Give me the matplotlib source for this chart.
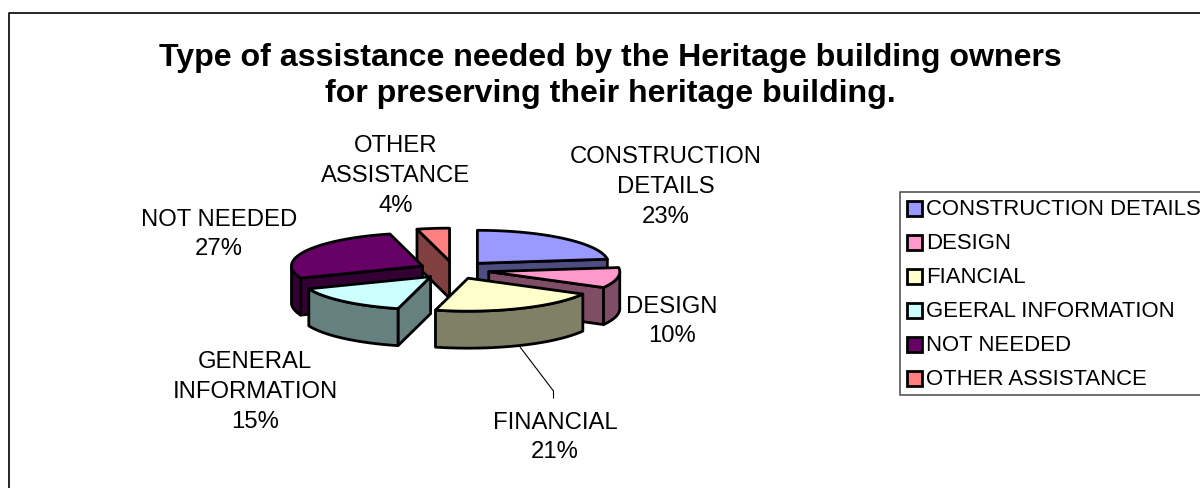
import numpy as np
import matplotlib
matplotlib.use("Agg")
import matplotlib.pyplot as plt
from matplotlib.patches import Polygon, Rectangle

plt.rcParams['font.family'] = ['Liberation Sans', 'DejaVu Sans']

# data
shares = [23, 10, 21, 15, 27, 4]
legend_names = ["CONSTRUCTION DETAILS", "DESIGN", "FIANCIAL",
                "GEERAL INFORMATION", "NOT NEEDED", "OTHER ASSISTANCE"]
label_texts = ["CONSTRUCTION\nDETAILS\n23%", "DESIGN\n10%", "FINANCIAL\n21%",
               "GENERAL\nINFORMATION\n15%", "NOT NEEDED\n27%", "OTHER\nASSISTANCE\n4%"]
label_x = [666, 671.5, 555, 255, 219, 396]
label_y = [187, 321.5, 437.5, 392, 234.5, 176]
colors = ["#9999FF", "#FF99CC", "#FFFFCC", "#CCFFFF", "#660066", "#FF8080"]
title = "Type of assistance needed by the Heritage building owners\nfor preserving their heritage building."

# pie geometry in pixels
cx, cy = 454, 270
rx, ry = 131, 33
depth = 37
explode = 0.27
edge = 2.0


def darker(c):
    rgb = matplotlib.colors.to_rgb(c)
    return tuple(v * 0.5 for v in rgb)


def ell(t, ox, oy, dz=0):
    # t in degrees, clockwise from 12 o'clock
    t = np.radians(t)
    return np.column_stack([ox + rx * np.sin(t), oy - ry * np.cos(t) + dz])


def draw_slice(ax, t0, t1, color):
    mid = np.radians((t0 + t1) / 2)
    ox = cx + explode * rx * np.sin(mid)
    oy = cy - explode * ry * np.cos(mid)
    side = darker(color)
    kw = dict(facecolor=side, edgecolor="black", linewidth=edge, joinstyle="round")

    # cut faces that look towards the viewer
    for t, vis in ((t0, np.sin(np.radians(t0)) < -1e-6), (t1, np.sin(np.radians(t1)) > 1e-6)):
        if vis:
            p = ell(t, ox, oy)[0]
            ax.add_patch(Polygon([(ox, oy), p, p + [0, depth], (ox, oy + depth)], **kw))

    # outer rim, front part only
    a, b = max(t0, 90), min(t1, 270)
    if b > a:
        ts = np.linspace(a, b, 50)
        ax.add_patch(Polygon(np.vstack([ell(ts, ox, oy), ell(ts[::-1], ox, oy, depth)]), **kw))

    # top
    ts = np.linspace(t0, t1, 80)
    ax.add_patch(Polygon(np.vstack([[ox, oy], ell(ts, ox, oy)]), facecolor=color,
                         edgecolor="black", linewidth=edge, joinstyle="round"))


fig = plt.figure(figsize=(12, 4.88), dpi=100)
ax = fig.add_axes([0, 0, 1, 1])
ax.set_xlim(0, 1200)
ax.set_ylim(488, 0)
ax.axis("off")

# chart frame
ax.plot([8.5, 8.5, 1200], [488, 12.5, 12.5], color="black", lw=1.2)

ax.text(610, 76, title, ha="center", va="center", fontsize=23.1, fontweight="bold",
        linespacing=1.29)

# slice angles come from the shares
ends = np.cumsum(shares) / sum(shares) * 360
starts = np.r_[0, ends[:-1]]
for i in [5, 4, 0, 1, 3, 2]:
    draw_slice(ax, starts[i], ends[i], colors[i])

# leader line of the financial label
ax.plot([520, 553.5, 553.5], [347, 391, 398], color="black", lw=0.8)

for x, y, s in zip(label_x, label_y, label_texts):
    ax.text(x, y, s, ha="center", va="center", fontsize=17.2, linespacing=1.47)

# legend
ax.plot([1200, 899.5, 899.5, 1200], [191.5, 191.5, 394.5, 394.5], color="#555555", lw=1.2)
for i, name in enumerate(legend_names):
    y = 208 + i * 34
    ax.add_patch(Rectangle((906.5, y - 7.5), 15, 15, facecolor=colors[i], edgecolor="black", lw=2))
    ax.text(926, y + 1.5, name, ha="left", va="center", fontsize=15.9)

fig.savefig("out.png", dpi=100)
